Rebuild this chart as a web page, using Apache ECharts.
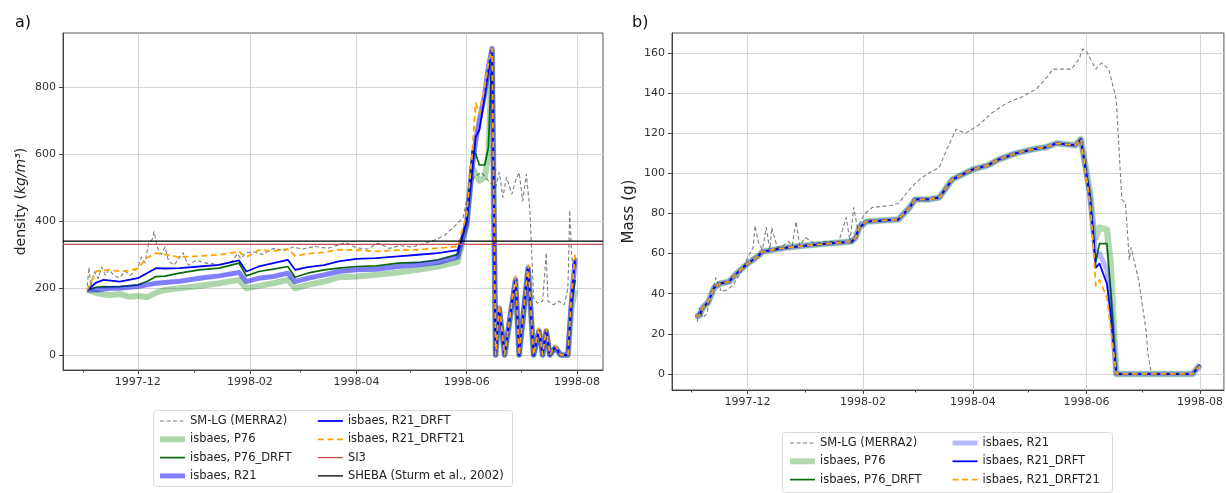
<!DOCTYPE html>
<html><head><meta charset="utf-8">
<script src="https://cdn.jsdelivr.net/npm/echarts@6/dist/echarts.min.js"></script>
<style>html,body{margin:0;padding:0;background:#fff}#c{width:1226px;height:493px}</style>
</head><body><div id="c"></div>
<script>
// ---------- tick labels ----------
const majorTickLabels = ['1997-12','1998-02','1998-04','1998-06','1998-08'];
const monthTicks = ['1997-11','1997-12','1998-01','1998-02','1998-03','1998-04','1998-05','1998-06','1998-07','1998-08'];
const densTicks = [0,200,400,600,800];
const massTicks = [0,20,40,60,80,100,120,140,160];

// ---------- panel a) density ----------
const densDates = ['1997-11-03','1997-11-08','1997-11-12','1997-11-16','1997-11-21','1997-11-26','1997-12-01','1997-12-06','1997-12-11','1997-12-16','1997-12-24','1998-01-04','1998-01-15','1998-01-26','1998-01-30','1998-02-06','1998-02-14','1998-02-22','1998-02-26','1998-03-05','1998-03-14','1998-03-22','1998-04-01','1998-04-12','1998-04-24','1998-05-05','1998-05-16','1998-05-27',
 '1998-06-01','1998-06-04','1998-06-06','1998-06-08','1998-06-11','1998-06-13','1998-06-15','1998-06-17','1998-06-19','1998-06-22','1998-06-28','1998-06-30','1998-07-05','1998-07-08','1998-07-11','1998-07-13','1998-07-15','1998-07-17','1998-07-20','1998-07-23','1998-07-27','1998-07-29','1998-07-31'];
const densP76 = [194,185,180,179,182,174,176,172,186,194,199,206,214,224,199,206,214,224,199,209,219,232,234,239,246,254,264,278,
 390,560,540,520,530,600,905,0,135,0,220,0,255,0,70,0,70,0,20,0,0,140,194];
const densP76drft = [194,202,204,203,204,206,209,219,234,235,244,254,259,274,236,249,256,264,232,244,254,259,264,266,274,276,284,300,
 395,610,600,567,567,620,910,0,140,0,225,0,260,0,72,0,72,0,22,0,0,150,224];
const densR21 = [194,194,196,199,199,202,204,209,214,216,220,229,236,246,219,229,234,244,219,229,239,249,254,256,264,269,276,292,
 390,560,640,700,780,860,915,0,140,0,225,0,260,0,72,0,72,0,22,0,0,170,285];
const densR21drft = [194,216,224,222,219,224,229,244,259,258,259,264,269,282,249,264,274,284,254,262,268,279,287,289,294,299,304,313,
 400,546,651,672,770,850,915,0,144,0,229,0,264,0,75,0,75,0,25,0,0,174,289];
const densR21drft21 = [194,250,252,254,249,252,258,290,304,300,292,295,299,308,292,313,310,316,296,302,306,314,313,309,313,314,319,324,
 420,600,752,720,800,870,915,0,150,0,235,0,268,0,80,0,78,0,28,0,0,180,300];

const smlgDensDates = ['1997-11-03','1997-11-04','1997-11-05','1997-11-07','1997-11-09','1997-11-11','1997-11-13','1997-11-15','1997-11-18','1997-11-21','1997-11-24','1997-11-27','1997-12-01','1997-12-03','1997-12-05','1997-12-07','1997-12-09','1997-12-10','1997-12-12','1997-12-14','1997-12-16','1997-12-18','1997-12-21','1997-12-24','1997-12-26','1997-12-29','1998-01-02','1998-01-08','1998-01-15','1998-01-22','1998-01-25','1998-01-27','1998-01-30','1998-02-03','1998-02-08','1998-02-14','1998-02-20','1998-02-25','1998-03-02','1998-03-09','1998-03-16','1998-03-22','1998-03-26','1998-04-01','1998-04-07','1998-04-13','1998-04-19','1998-04-25','1998-05-02','1998-05-08','1998-05-14','1998-05-20','1998-05-26','1998-05-30','1998-06-02','1998-06-05','1998-06-09','1998-06-13','1998-06-17','1998-06-19','1998-06-21','1998-06-23','1998-06-26','1998-06-28','1998-06-30','1998-07-02','1998-07-04','1998-07-06','1998-07-08','1998-07-10','1998-07-13','1998-07-15','1998-07-16','1998-07-19','1998-07-22','1998-07-25','1998-07-27','1998-07-28','1998-07-29','1998-07-30','1998-08-01'];
const smlgDens = [205,262,205,248,228,262,238,255,236,230,250,238,262,292,275,335,345,368,318,300,322,280,268,290,305,268,282,274,270,278,302,288,305,308,300,318,312,322,316,324,318,328,336,320,316,334,318,326,322,332,342,358,388,410,490,530,545,520,500,545,470,530,480,520,545,460,540,430,170,155,160,305,160,150,160,150,200,432,300,250,290];

const si3Density = 330;
const shebaDensity = 340;

// ---------- panel b) mass ----------
const massDates = ['1997-11-03','1997-11-05','1997-11-07','1997-11-10','1997-11-13','1997-11-16','1997-11-21','1997-11-25','1997-12-01','1997-12-07','1997-12-09','1997-12-22','1998-01-01','1998-01-26','1998-01-28','1998-01-30','1998-02-03','1998-02-20','1998-02-26','1998-03-01','1998-03-08','1998-03-14','1998-03-21','1998-04-01','1998-04-09','1998-04-15','1998-04-24','1998-05-03','1998-05-10','1998-05-16','1998-05-26','1998-05-29',
 '1998-06-03','1998-06-05','1998-06-06','1998-06-08','1998-06-12','1998-06-14','1998-06-17','1998-07-28','1998-08-01'];
const massCommon = [29,29,33,36,43,45,46,50,55,59,61,63,64,66,68,73,76,77,83,87,87,88,97,102,104,107,110,112,113,115,114,117];
const massTailP76 = [90,70,68,73,72,55,0,0,4.5];
const massTailP76drft = [89,62,56,65,65,42,0,0,4.5];
const massTailR21 = [88,68,58,60,52,35,0,0,4.5];
const massTailR21drft = [87,67,53,55,45,30,0,0,4.5];
const massTailR21drft21 = [85,60,44,47,38,23,0,0,4];

const smlgMassDates = ['1997-11-04','1997-11-05','1997-11-07','1997-11-09','1997-11-11','1997-11-14','1997-11-17','1997-11-20','1997-11-23','1997-11-27','1997-12-01','1997-12-04','1997-12-05','1997-12-07','1997-12-09','1997-12-11','1997-12-13','1997-12-14','1997-12-17','1997-12-20','1997-12-23','1997-12-25','1997-12-27','1997-12-29','1998-01-01','1998-01-06','1998-01-12','1998-01-19','1998-01-23','1998-01-25','1998-01-27','1998-01-29','1998-02-02','1998-02-06','1998-02-16','1998-02-20','1998-02-26','1998-03-02','1998-03-08','1998-03-14','1998-03-18','1998-03-23','1998-03-28','1998-04-04','1998-04-11','1998-04-19','1998-04-27','1998-05-05','1998-05-10','1998-05-14','1998-05-24','1998-05-28','1998-05-30','1998-06-01','1998-06-06','1998-06-09','1998-06-13','1998-06-17','1998-06-20','1998-06-22','1998-06-24','1998-06-25','1998-06-29','1998-07-03','1998-07-04','1998-07-06'];
const smlgMass = [26,33,28,30,38,48,41,42,44,50,58,63,74,65,62,73,62,73,63,64,66,64,76,64,68,65,66,66,78,66,83,73,80,83,84,85,92,96,100,103,112,122,120,124,130,135,138,142,147,152,152,157,162,161,152,155,152,137,87,85,57,63,47,22,10,0];

// ---------- helpers ----------
const FONT = 'DejaVu Sans';
function ts(s){const p=s.split('-').map(Number);return Date.UTC(p[0],p[1]-1,p[2]||1);}
function pairs(dates, vals){return dates.map((d,i)=>[ts(d), vals[i]]);}
const fmt = v => {const d=new Date(v);return d.getUTCFullYear()+'-'+String(d.getUTCMonth()+1).padStart(2,'0');};
const majorTs = majorTickLabels.map(ts);
const monthTs = monthTicks.map(ts);
const LX_MIN = Date.UTC(1997,9,20,14), LX_MAX = Date.UTC(1998,7,15,10);
const RX_MIN = Date.UTC(1997,9,21,10), RX_MAX = Date.UTC(1998,7,13,20);

const C = {
  smlg:'#7f7f7f',
  p76L:'rgba(0,128,0,0.32)', r21L:'rgba(0,0,255,0.5)',
  p76R:'rgba(0,128,0,0.3)', r21R:'rgba(0,0,255,0.28)',
  p76d:'#0a6a0a', r21d:'#0000ff', r21d21:'#ffa500', si3:'#c0504d', sheba:'#000000'
};

function majorX(grid,min,max){return {type:'value',gridIndex:grid,min:min,max:max,position:'bottom',scale:true,
  axisLine:{show:true,onZero:false,lineStyle:{color:'#444'}},
  axisTick:{show:true,customValues:majorTs,length:4,lineStyle:{color:'#444'}},
  axisLabel:{customValues:majorTs,formatter:fmt,color:'#333',fontSize:11,fontFamily:FONT,margin:7,showMinLabel:true,showMaxLabel:true},
  splitLine:{show:true,lineStyle:{color:'#d4d4d4',width:1}}};}
function minorX(grid,min,max){return {type:'value',gridIndex:grid,min:min,max:max,position:'bottom',scale:true,
  axisLine:{show:false,onZero:false},
  axisTick:{show:true,customValues:monthTs,length:2.5,lineStyle:{color:'#444'}},
  axisLabel:{show:false},splitLine:{show:false}};}

function line(name,xi,yi,data,color,width,type,z){
  return {name:name,type:'line',xAxisIndex:xi,yAxisIndex:yi,data:data,symbol:'none',showSymbol:false,
    lineStyle:{color:color,width:width,type:type||'solid',cap:'butt',join:'round'},itemStyle:{color:color},
    z:z||2,silent:true,animation:false};
}

const massFull = tail => massCommon.concat(tail);

const series = [
  line('SM-LG (MERRA2)',0,0,pairs(smlgDensDates,smlgDens),C.smlg,1.1,[4,2.5]),
  line('isbaes, P76',0,0,pairs(densDates,densP76),C.p76L,6),
  line('isbaes, P76_DRFT',0,0,pairs(densDates,densP76drft),C.p76d,1.7),
  line('isbaes, R21',0,0,pairs(densDates,densR21),C.r21L,5),
  line('isbaes, R21_DRFT',0,0,pairs(densDates,densR21drft),C.r21d,1.8),
  line('isbaes, R21_DRFT21',0,0,pairs(densDates,densR21drft21),C.r21d21,1.8,[6,3.5]),
  line('SI3',0,0,[[LX_MIN,si3Density],[LX_MAX,si3Density]],C.si3,1.3),
  line('SHEBA (Sturm et al., 2002)',0,0,[[LX_MIN,shebaDensity],[LX_MAX,shebaDensity]],C.sheba,1.3),

  line('SM-LG (MERRA2)',2,1,pairs(smlgMassDates,smlgMass),C.smlg,1.1,[4,2.5]),
  line('isbaes, P76',2,1,pairs(massDates,massFull(massTailP76)),C.p76R,6.5),
  line('isbaes, P76_DRFT',2,1,pairs(massDates,massFull(massTailP76drft)),C.p76d,1.7),
  line('isbaes, R21',2,1,pairs(massDates,massFull(massTailR21)),C.r21R,5),
  line('isbaes, R21_DRFT',2,1,pairs(massDates,massFull(massTailR21drft)),C.r21d,1.8),
  line('isbaes, R21_DRFT21',2,1,pairs(massDates,massFull(massTailR21drft21)),C.r21d21,1.8,[6,3.5])
];

const HIDE = {color:'rgba(0,0,0,0)',borderColor:'rgba(0,0,0,0)',borderWidth:0,opacity:0};
function li(name,color,width,type){return {name:name,lineStyle:{color:color,width:width,type:type||'solid',opacity:1,cap:'butt'},itemStyle:HIDE};}
const legBase = {orient:'vertical',itemWidth:25,itemHeight:14,itemGap:4.3,padding:0,selectedMode:false,
  itemStyle:HIDE,
  textStyle:{fontFamily:FONT,fontSize:11.5,color:'#222',lineHeight:14}};

const option = {
  animation:false,
  backgroundColor:'#fff',
  grid:[
    {left:63,top:33,right:623,bottom:123,show:true,borderColor:'#555',borderWidth:1,containLabel:false},
    {left:672,top:33,right:1,bottom:103,show:true,borderColor:'#555',borderWidth:1,containLabel:false}
  ],
  xAxis:[majorX(0,LX_MIN,LX_MAX),minorX(0,LX_MIN,LX_MAX),majorX(1,RX_MIN,RX_MAX),minorX(1,RX_MIN,RX_MAX)],
  yAxis:[
    {type:'value',gridIndex:0,min:-45,max:961,
     axisLine:{show:true,onZero:false,lineStyle:{color:'#444'}},
     axisTick:{show:true,customValues:densTicks,length:4,lineStyle:{color:'#444'}},
     axisLabel:{customValues:densTicks,color:'#333',fontSize:11,fontFamily:FONT,margin:7},
     splitLine:{show:true,lineStyle:{color:'#d4d4d4',width:1}},
     name:'{n|density (}{i|kg/m³}{n|)}',nameLocation:'middle',nameGap:35,nameRotate:90,
     nameTextStyle:{color:'#222',rich:{n:{fontSize:14,fontFamily:FONT,color:'#222'},i:{fontSize:14,fontFamily:FONT,fontStyle:'italic',color:'#222'}}}},
    {type:'value',gridIndex:1,min:-8,max:170,
     axisLine:{show:true,onZero:false,lineStyle:{color:'#444'}},
     axisTick:{show:true,customValues:massTicks,length:4,lineStyle:{color:'#444'}},
     axisLabel:{customValues:massTicks,color:'#333',fontSize:11,fontFamily:FONT,margin:7},
     splitLine:{show:true,lineStyle:{color:'#d4d4d4',width:1}},
     name:'Mass (g)',nameLocation:'middle',nameGap:35,nameRotate:90,
     nameTextStyle:{color:'#222',fontSize:15,fontFamily:FONT}}
  ],
  legend:[
    Object.assign({},legBase,{left:157,top:414,data:[
      li('SM-LG (MERRA2)',C.smlg,1.1,[4,2.5]),li('isbaes, P76',C.p76L,6),li('isbaes, P76_DRFT',C.p76d,1.7),li('isbaes, R21',C.r21L,5)]}),
    Object.assign({},legBase,{left:317,top:414,data:[
      li('isbaes, R21_DRFT',C.r21d,1.8),li('isbaes, R21_DRFT21',C.r21d21,1.8,[6,3.5]),li('SI3',C.si3,1.3),li('SHEBA (Sturm et al., 2002)',C.sheba,1.3)]}),
    Object.assign({},legBase,{left:787,top:436,data:[
      li('SM-LG (MERRA2)',C.smlg,1.1,[4,2.5]),li('isbaes, P76',C.p76R,6),li('isbaes, P76_DRFT',C.p76d,1.7)]}),
    Object.assign({},legBase,{left:950,top:436,data:[
      li('isbaes, R21',C.r21R,5),li('isbaes, R21_DRFT',C.r21d,1.8),li('isbaes, R21_DRFT21',C.r21d21,1.8,[6,3.5])]})
  ],
  graphic:[
    {type:'rect',left:153,top:410,shape:{width:359,height:76,r:3},style:{fill:'#fff',stroke:'#d8d8d8',lineWidth:1},z:1,silent:true},
    {type:'rect',left:782,top:432,shape:{width:330,height:60,r:3},style:{fill:'#fff',stroke:'#d8d8d8',lineWidth:1},z:1,silent:true},
    {type:'text',left:15,top:15,style:{text:'a)',font:'16px "DejaVu Sans"',fill:'#111'},z:10},
    {type:'text',left:632,top:15,style:{text:'b)',font:'16px "DejaVu Sans"',fill:'#111'},z:10}
  ],
  series:series
};
const chart = echarts.init(document.getElementById('c'),null,{renderer:'canvas'});
chart.setOption(option);
</script></body></html>
